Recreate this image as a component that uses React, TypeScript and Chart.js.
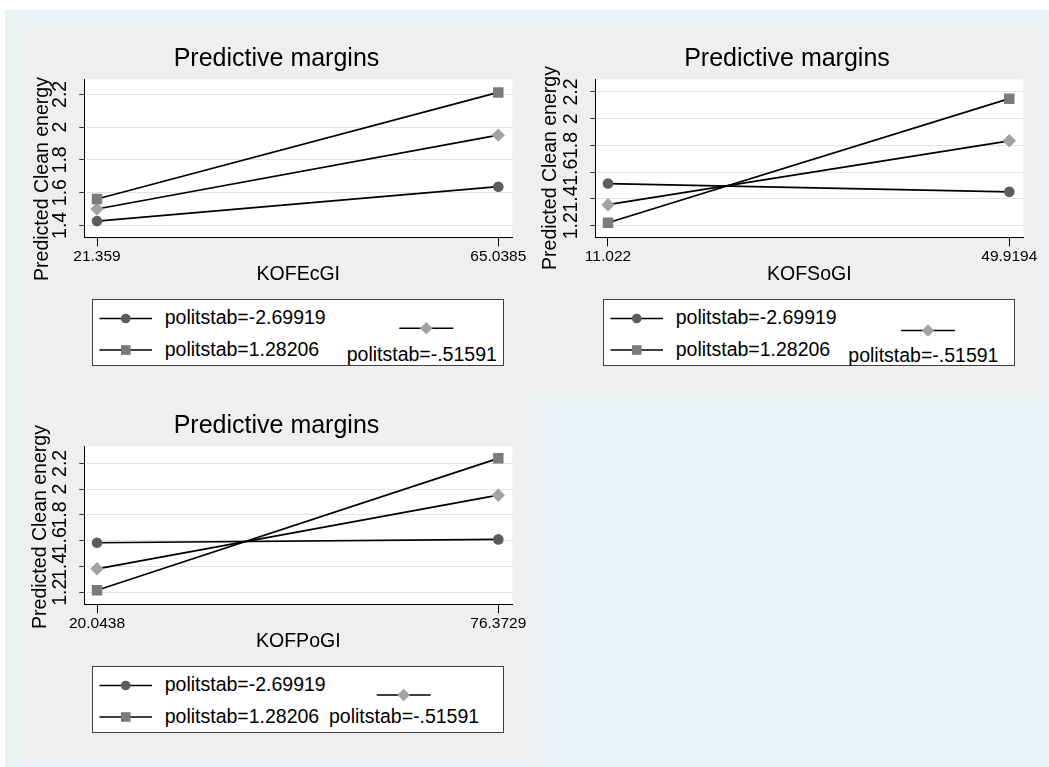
import React, { useEffect, useRef } from "react";
import { Chart, registerables } from "chart.js";

Chart.register(...registerables);

// ---------------- data ----------------
const chartTitle = "Predictive margins";
const yAxisTitle = "Predicted Clean energy";
const seriesLabels = ["politstab=-2.69919", "politstab=1.28206", "politstab=-.51591"];

// Panel 1: KOFEcGI
const ecName = "KOFEcGI";
const ecX = [21.359, 65.0385];
const ecXLabels = ["21.359", "65.0385"];
const ecYTicks = [1.4, 1.6, 1.8, 2, 2.2];
const ecYRange = [1.327, 2.292];
const ecLow = [1.426, 1.636];
const ecHigh = [1.561, 2.212];
const ecMid = [1.5, 1.951];

// Panel 2: KOFSoGI
const soName = "KOFSoGI";
const soX = [11.022, 49.9194];
const soXLabels = ["11.022", "49.9194"];
const soYTicks = [1.2, 1.4, 1.6, 1.8, 2, 2.2];
const soYRange = [1.113, 2.295];
const soLow = [1.515, 1.453];
const soHigh = [1.222, 2.15];
const soMid = [1.357, 1.835];

// Panel 3: KOFPoGI
const poName = "KOFPoGI";
const poX = [20.0438, 76.3729];
const poXLabels = ["20.0438", "76.3729"];
const poYTicks = [1.2, 1.4, 1.6, 1.8, 2, 2.2];
const poYRange = [1.1065, 2.3325];
const poLow = [1.584, 1.61];
const poHigh = [1.216, 2.239];
const poMid = [1.382, 1.953];

// ---------------- styles ----------------
const FONT = '"Liberation Sans", Arial, Helvetica, sans-serif';
const OUTER_BG = "#eaf2f3";
const PANEL_BG = "#efefef";
const GRID = "#e0e4e6";
const markerColors = ["#5c5c5c", "#7b7b7b", "#a2a2a2"];
const markerStyles = ["circle", "rect", "rectRot"];
const markerRadii = [5.3, 7.4, 6.7];

const PLOT = { left: 63.3, top: 51.3, right: 491.3, bottom: 209.3 };
const X_AXIS_H = 48.6;
const X_PAD_L = 12.7 / 428;
const X_PAD_R = 14 / 428;

type PanelCfg = {
  name: string;
  x: number[];
  xLabels: string[];
  yTicks: number[];
  yRange: number[];
  series: number[][];
  left: number;
  top: number;
  w: number;
  h: number;
  yTitleX: number;
  yTitleY: number;
  col2TextX: number;
  col2TextBase: number;
  diamondX: number;
  diamondY: number;
};

const panels: PanelCfg[] = [
  {
    name: ecName, x: ecX, xLabels: ecXLabels, yTicks: ecYTicks, yRange: ecYRange,
    series: [ecLow, ecHigh, ecMid],
    left: 21, top: 28, w: 511, h: 367,
    yTitleX: 19.8, yTitleY: 150.5,
    col2TextX: 325.7, col2TextBase: 333, diamondX: 378.3, diamondY: 300.3,
  },
  {
    name: soName, x: soX, xLabels: soXLabels, yTicks: soYTicks, yRange: soYRange,
    series: [soLow, soHigh, soMid],
    left: 532, top: 28, w: 510, h: 367,
    yTitleX: 17, yTitleY: 140.4,
    col2TextX: 316.3, col2TextBase: 333.5, diamondX: 369, diamondY: 302.5,
  },
  {
    name: poName, x: poX, xLabels: poXLabels, yTicks: poYTicks, yRange: poYRange,
    series: [poLow, poHigh, poMid],
    left: 21, top: 395, w: 511, h: 366,
    yTitleX: 17.5, yTitleY: 132,
    col2TextX: 308, col2TextBase: 327.5, diamondX: 355.7, diamondY: 300,
  },
];

const plotBg = {
  id: "plotBg",
  beforeDraw(chart: any) {
    const { ctx, chartArea } = chart;
    if (!chartArea) return;
    ctx.save();
    ctx.fillStyle = "#ffffff";
    ctx.fillRect(chartArea.left, chartArea.top, chartArea.right - chartArea.left, chartArea.bottom - chartArea.top);
    ctx.restore();
  },
};

function PanelChart({ p }: { p: PanelCfg }) {
  const ref = useRef<HTMLCanvasElement | null>(null);

  useEffect(() => {
    if (!ref.current) return;
    const span = (p.x[1] - p.x[0]) / (1 - X_PAD_L - X_PAD_R);
    const xMin = p.x[0] - X_PAD_L * span;
    const xMax = p.x[1] + X_PAD_R * span;

    const datasets = p.series.map((vals, i) => ({
      label: seriesLabels[i],
      data: p.x.map((xv, j) => ({ x: xv, y: vals[j] })),
      borderColor: "#000000",
      borderWidth: 1.7,
      pointStyle: markerStyles[i],
      pointRadius: markerRadii[i],
      pointBackgroundColor: markerColors[i],
      pointBorderColor: markerColors[i],
      pointBorderWidth: 0,
      fill: false,
      tension: 0,
    }));

    const chart = new Chart(ref.current, {
      type: "line",
      data: { datasets } as any,
      plugins: [plotBg],
      options: {
        animation: false,
        responsive: false,
        devicePixelRatio: 1,
        layout: {
          padding: {
            left: 0,
            top: PLOT.top,
            right: p.w - PLOT.right,
            bottom: p.h - PLOT.bottom - X_AXIS_H,
          },
        },
        plugins: {
          legend: { display: false },
          title: { display: false },
          tooltip: { enabled: false },
        },
        scales: {
          x: {
            type: "linear",
            min: xMin,
            max: xMax,
            bounds: "data",
            afterBuildTicks: (s: any) => {
              s.ticks = p.x.map((v) => ({ value: v }));
            },
            afterFit: (s: any) => {
              s.height = X_AXIS_H;
            },
            ticks: {
              autoSkip: false,
              maxRotation: 0,
              minRotation: 0,
              padding: 1,
              color: "#000",
              font: { family: FONT, size: 15.5 },
              callback: (_v: any, i: number) => p.xLabels[i],
            },
            grid: {
              display: true,
              drawOnChartArea: false,
              drawTicks: true,
              tickLength: 9,
              tickColor: "#000",
              tickWidth: 1,
            },
            border: { display: true, color: "#000", width: 1 },
            title: {
              display: true,
              text: p.name,
              color: "#000",
              font: { family: FONT, size: 19.5 },
              padding: 0,
            },
          },
          y: {
            type: "linear",
            min: p.yRange[0],
            max: p.yRange[1],
            bounds: "data",
            afterBuildTicks: (s: any) => {
              s.ticks = p.yTicks.map((v) => ({ value: v }));
            },
            afterFit: (s: any) => {
              s.width = PLOT.left;
            },
            ticks: {
              autoSkip: false,
              minRotation: 90,
              maxRotation: 90,
              crossAlign: "center",
              padding: 5,
              color: "#000",
              font: { family: FONT, size: 19.5 },
              callback: (v: any) => String(v),
            },
            grid: {
              color: GRID,
              lineWidth: 1,
              drawTicks: true,
              tickLength: 5,
              tickColor: "#333",
            },
            border: { display: true, color: "#000", width: 1 },
          },
        },
      } as any,
    });
    return () => chart.destroy();
  }, [p]);

  const legendLeft = 70.5;
  const legendTop = 271.2;
  const legendW = 412.5;
  const legendH = 66.7;
  const row1 = 290.5;
  const row2 = 322;
  const symL = 78.5;
  const symR = 131;
  const symC = (symL + symR) / 2;
  const textX = 143.7;
  const BASE = 16.76; // baseline offset inside a 20px line box at 19.5px
  const textStyle: React.CSSProperties = {
    position: "absolute",
    fontFamily: FONT,
    fontSize: 19.5,
    lineHeight: "20px",
    height: 20,
    whiteSpace: "nowrap",
    color: "#000",
  };
  const dC = p.diamondX + 27;
  const dR = 6.3;

  return (
    <div style={{ position: "absolute", left: p.left, top: p.top, width: p.w, height: p.h, background: PANEL_BG }}>
      <canvas
        ref={ref}
        width={p.w}
        height={p.h}
        style={{ position: "absolute", left: 0, top: 0, width: p.w, height: p.h }}
      />
      <div
        style={{
          position: "absolute",
          left: 0,
          top: 16.8,
          width: p.w,
          height: 25,
          lineHeight: "25px",
          fontFamily: FONT,
          fontSize: 25,
          textAlign: "center",
          color: "#000",
          whiteSpace: "nowrap",
        }}
      >
        {chartTitle}
      </div>
      <div
        style={{
          position: "absolute",
          left: p.yTitleX - 150,
          top: p.yTitleY - 10,
          width: 300,
          height: 20,
          lineHeight: "20px",
          fontFamily: FONT,
          fontSize: 19.5,
          textAlign: "center",
          color: "#000",
          whiteSpace: "nowrap",
          transform: "rotate(-90deg)",
        }}
      >
        {yAxisTitle}
      </div>
      <div
        style={{
          position: "absolute",
          left: legendLeft,
          top: legendTop,
          width: legendW,
          height: legendH,
          boxSizing: "border-box",
          border: "1px solid #404040",
          background: "#ffffff",
        }}
      />
      <svg
        width={p.w}
        height={p.h}
        style={{ position: "absolute", left: 0, top: 0, overflow: "visible", pointerEvents: "none" }}
      >
        <line x1={symL} x2={symR} y1={row1} y2={row1} stroke="#000" strokeWidth={1.5} />
        <circle cx={symC} cy={row1} r={4.8} fill={markerColors[0]} />
        <line x1={symL} x2={symR} y1={row2} y2={row2} stroke="#000" strokeWidth={1.5} />
        <rect x={symC - 4.8} y={row2 - 4.8} width={9.6} height={9.6} fill={markerColors[1]} />
        <line x1={p.diamondX} x2={p.diamondX + 54} y1={p.diamondY} y2={p.diamondY} stroke="#000" strokeWidth={1.5} />
        <polygon
          points={`${dC - dR},${p.diamondY} ${dC},${p.diamondY - dR} ${dC + dR},${p.diamondY} ${dC},${p.diamondY + dR}`}
          fill={markerColors[2]}
        />
      </svg>
      <div style={{ ...textStyle, left: textX, top: 296 - BASE }}>{seriesLabels[0]}</div>
      <div style={{ ...textStyle, left: textX, top: 327.5 - BASE }}>{seriesLabels[1]}</div>
      <div style={{ ...textStyle, left: p.col2TextX, top: p.col2TextBase - BASE }}>{seriesLabels[2]}</div>
    </div>
  );
}

export default function App() {
  return (
    <div
      style={{
        position: "absolute",
        left: 0,
        top: 0,
        width: 1049,
        height: 767,
        background: "#ffffff",
        overflow: "hidden",
      }}
    >
      <div style={{ position: "absolute", left: 5, top: 10, width: 1044, height: 757, background: OUTER_BG }} />
      {panels.map((p, i) => (
        <PanelChart key={i} p={p} />
      ))}
    </div>
  );
}
